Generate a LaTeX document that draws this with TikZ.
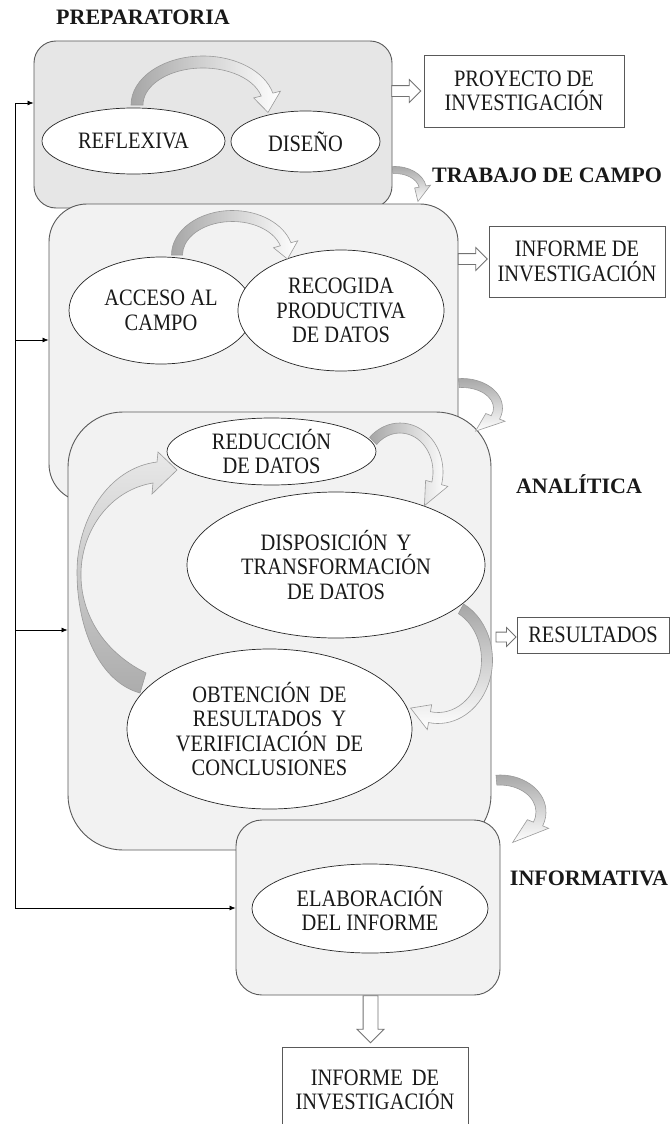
\documentclass[tikz,border=0pt]{standalone}
\usepackage{fontspec}
\setmainfont{Liberation Serif}
\newfontfamily\condf{Liberation Serif}[FakeStretch=0.87]
\usetikzlibrary{shapes.geometric,shapes.arrows,calc,arrows.meta}
\definecolor{boxline}{HTML}{595959}
\definecolor{phase}{HTML}{F2F2F2}
\definecolor{phasedark}{HTML}{E6E6E6}
\definecolor{ribbonline}{HTML}{9A9A9A}
\definecolor{ribbondark}{HTML}{A6A6A6}
% curved ribbon arrow along an ellipse: cx, cy (down), rx, ry, tail angle, head-base angle, tip angle, width, style
\newcommand\rbnarrow[9]{%
  \begin{scope}[shift={(#1,-#2)}]
  \pgfmathsetmacro\RbOx{#3+#8/2}\pgfmathsetmacro\RbOy{#4+#8/2}%
  \pgfmathsetmacro\RbIx{#3-#8/2}\pgfmathsetmacro\RbIy{#4-#8/2}%
  \pgfmathsetmacro\RbHOx{#3+1.15*#8}\pgfmathsetmacro\RbHOy{#4+1.15*#8}%
  \pgfmathsetmacro\RbHIx{#3-1.15*#8}\pgfmathsetmacro\RbHIy{#4-1.15*#8}%
  \path[#9] (#5:\RbOx pt and \RbOy pt)
    arc[start angle=#5, end angle=#6, x radius=\RbOx pt, y radius=\RbOy pt]
    -- (#6:\RbHOx pt and \RbHOy pt) -- (#7:#3pt and #4pt)
    -- (#6:\RbHIx pt and \RbHIy pt) -- (#6:\RbIx pt and \RbIy pt)
    arc[start angle=#6, end angle=#5, x radius=\RbIx pt, y radius=\RbIy pt] -- cycle;
  \end{scope}}
\newcommand\wsp{\hspace{9pt}}
\begin{document}
\begin{tikzpicture}[x=1pt,y=1pt,
  font=\condf\fontsize{23.5}{24.5}\selectfont,
  phasebox/.style={rectangle, draw=boxline, line width=0.9pt, fill=phase, inner sep=0pt},
  stage/.style={ellipse, draw=black!85, line width=0.7pt, fill=white, inner sep=0pt, align=center, text=black!90},
  outbox/.style={rectangle, draw=boxline, line width=0.9pt, fill=white, align=center, inner sep=0pt, text=black!90},
  title/.style={font=\rmfamily\bfseries\fontsize{22}{24}\selectfont, anchor=base, inner sep=0pt, text=black!90},
  blockarrow/.style={single arrow, draw=boxline!85, fill=white, line width=0.8pt, inner sep=5pt,
    single arrow head extend=6pt, single arrow tip angle=90, minimum height=29pt},
  feed/.style={-{Latex[length=6pt,width=5pt]}, line width=0.7pt, black},
  rbnR/.style={left color=ribbondark, right color=white, draw=ribbonline, line width=0.6pt},
  rbnD/.style={top color=ribbondark, bottom color=white, draw=ribbonline, line width=0.6pt},
  rbnBig/.style={top color=gray!18, bottom color=gray!65, draw=ribbonline, line width=0.6pt}]
\useasboundingbox (0,0) rectangle (670,-1124);
\clip (0,0) rectangle (670,-1124);
\fill[white] (0,0) rectangle (670,-1124);

% phase boxes and their stages
\node[phasebox, fill=phasedark, rounded corners=22pt, minimum width=358pt, minimum height=167pt] (prep) at (213,-124.5) {};
\node[stage, minimum width=183pt, minimum height=66pt] (refl) at (133.5,-141) {REFLEXIVA};
\node[stage, minimum width=149pt, minimum height=61pt] (dise) at (305.5,-141.5) {DISEÑO};

\node[phasebox, rounded corners=38pt, minimum width=409pt, minimum height=298pt] (trab) at (253.5,-353) {};
\node[stage, minimum width=184pt, minimum height=107pt] (acce) at (161,-310.5) {ACCESO AL\\CAMPO};
\node[stage, minimum width=206pt, minimum height=121pt] (reco) at (341,-310.5) {RECOGIDA\\PRODUCTIVA\\DE DATOS};

\node[phasebox, rounded corners=55pt, minimum width=423pt, minimum height=438pt] (anal) at (279.5,-631) {};
\node[stage, minimum width=209pt, minimum height=67pt] (redu) at (271.5,-451.5) {REDUCCIÓN\\DE DATOS};
\node[stage, minimum width=298pt, minimum height=146pt] (disp) at (336,-565) {DISPOSICIÓN\wsp Y\\TRANSFORMACIÓN\\DE DATOS};
\node[stage, minimum width=285pt, minimum height=160pt] (obte) at (269.5,-729) {OBTENCIÓN\wsp DE\\RESULTADOS\wsp Y\\VERIFICIACIÓN\wsp DE\\CONCLUSIONES};

\node[phasebox, rounded corners=26pt, minimum width=264pt, minimum height=175pt] (info) at (368,-907.5) {};
\node[stage, minimum width=236pt, minimum height=89pt] (elab) at (370,-908.5) {ELABORACIÓN\\DEL INFORME};

% output boxes
\node[outbox, minimum width=200pt, minimum height=72pt] (proy) at (524,-91) {PROYECTO DE\\INVESTIGACIÓN};
\node[outbox, minimum width=176pt, minimum height=71pt] (inf1) at (577,-261.5) {INFORME DE\\INVESTIGACIÓN};
\node[outbox, minimum width=152pt, minimum height=36pt] (resu) at (593,-635) {RESULTADOS};
\node[outbox, minimum width=186pt, minimum height=86pt] (inf2) at (375,-1090) {INFORME\wsp DE\\INVESTIGACIÓN};

% hollow block arrows
\node[blockarrow] (ba1) at (403.5,-91) {};
\node[blockarrow] (ba2) at (470,-259) {};
\node[blockarrow, minimum height=20pt, inner sep=4.5pt, single arrow head extend=4.5pt] (ba3) at (503.5,-637) {};
\node[blockarrow, shape border rotate=270, minimum height=47pt, inner sep=7pt, single arrow head extend=6pt] (ba4) at (370.5,-1015.5) {};

% curved ribbon arrows
\rbnarrow{203}{105}{66}{43}{180}{14}{-10}{12}{rbnR}
\rbnarrow{232.4}{255}{55.4}{39}{180}{16}{-6}{11}{rbnR}
\rbnarrow{395}{190}{28}{20}{95}{10}{-35}{7}{rbnD}
\rbnarrow{462}{408}{36}{25}{95}{-22}{-68}{9}{rbnD}
\rbnarrow{500}{812}{41}{32}{95}{-22}{-72}{10}{rbnD}
\rbnarrow{400}{472}{38}{44}{135}{-15}{-50}{10}{rbnR}
\rbnarrow{438}{660}{49}{58}{62}{-100}{-124}{11}{rbnD}
\path[rbnBig] (146,-673) .. controls (100,-650) and (80,-610) .. (81,-572)
  .. controls (82,-530) and (110,-490) .. (153,-483) -- (152,-494) -- (177,-470)
  -- (158,-452) -- (157,-462) .. controls (108,-468) and (77,-520) .. (77,-572)
  .. controls (77,-630) and (100,-682) .. (140,-693) -- cycle;

% feedback line on the left
\coordinate (fbA) at (15,-103);
\coordinate (fbB) at (15,-340);
\coordinate (fbC) at (15,-630);
\coordinate (fbD) at (15,-908);
\draw[line width=0.7pt] (fbA) -- (fbD);
\draw[feed] (fbA) -- (fbA -| prep.west);
\draw[feed] (fbB) -- (fbB -| trab.west);
\draw[feed] (fbC) -- (fbC -| anal.west);
\draw[feed] (fbD) -- (fbD -| info.west);

% phase titles
\node[title] (tprep) at (143,-25) {PREPARATORIA};
\node[title] (ttrab) at (547,-182) {TRABAJO DE CAMPO};
\node[title] (tanal) at (579,-493) {ANALÍTICA};
\node[title] (tinfo) at (589,-885) {INFORMATIVA};
\end{tikzpicture}
\end{document}
